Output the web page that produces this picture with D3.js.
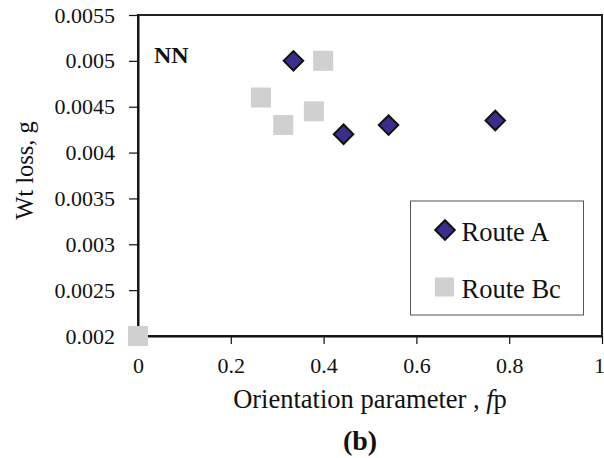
<!DOCTYPE html>
<html>
<head>
<meta charset="utf-8">
<script src="https://cdn.jsdelivr.net/npm/d3@7"></script>
<style>
  body { margin: 0; background: #fff; }
</style>
</head>
<body>
<div id="chart"></div>
<script>
// values
const routeAX = [0.335, 0.443, 0.540, 0.770];
const routeAY = [0.0050, 0.0042, 0.0043, 0.00435];
const routeBcX = [0.0, 0.265, 0.313, 0.379, 0.399];
const routeBcY = [0.0020, 0.0046, 0.0043, 0.00445, 0.0050];
const xTicks = [0, 0.2, 0.4, 0.6, 0.8, 1];
const xTickLabels = ['0', '0.2', '0.4', '0.6', '0.8', '1'];
const yTicks = [0.002, 0.0025, 0.003, 0.0035, 0.004, 0.0045, 0.005, 0.0055];
const yTickLabels = ['0.002', '0.0025', '0.003', '0.0035', '0.004', '0.0045', '0.005', '0.0055'];
const seriesNames = ['Route A', 'Route Bc'];

const FONT = '"Liberation Serif"';
const W = 604, H = 458;
const margin = { top: 15, right: 2, bottom: 122, left: 138 };
const width = W - margin.left - margin.right;
const height = H - margin.top - margin.bottom;

const svgRoot = d3.select('#chart').append('svg')
    .attr('width', W)
    .attr('height', H);

const svg = svgRoot.append('g')
    .attr('transform', `translate(${margin.left},${margin.top})`);

const x = d3.scaleLinear().domain([0, 1]).range([0, width]);
const y = d3.scaleLinear().domain([0.002, 0.0055]).range([height, 0]);

// plot frame
svg.append('rect')
    .attr('width', width)
    .attr('height', height)
    .style('fill', 'none')
    .style('stroke', '#222')
    .style('stroke-width', 2);

const xAxis = d3.axisBottom(x)
    .tickValues(xTicks)
    .tickFormat((d, i) => xTickLabels[i])
    .tickSize(8)
    .tickSizeOuter(0)
    .tickPadding(13);

const yAxis = d3.axisLeft(y)
    .tickValues(yTicks)
    .tickFormat((d, i) => yTickLabels[i])
    .tickSize(9)
    .tickSizeOuter(0)
    .tickPadding(14);

const gx = svg.append('g')
    .attr('transform', `translate(0,${height})`)
    .call(xAxis);

const gy = svg.append('g')
    .call(yAxis);

[gx, gy].forEach(g => {
    g.attr('font-family', null).attr('font-size', null);
    g.select('.domain').style('stroke', '#111').style('stroke-width', 2);
    g.selectAll('.tick line').style('stroke', '#111').style('stroke-width', 1.2);
    g.selectAll('.tick text')
        .style('font-family', FONT)
        .style('font-size', '22px')
        .style('fill', '#111');
});

// the last x label sits right at the page edge
gx.selectAll('.tick text').filter(d => d === 1).attr('dx', -3);

// axis titles
const xTitle = svg.append('text')
    .attr('x', width / 2)
    .attr('y', 393)
    .style('text-anchor', 'middle')
    .style('font-family', FONT)
    .style('font-size', '26.5px')
    .style('fill', '#111');
xTitle.append('tspan').text('Orientation parameter , ');
xTitle.append('tspan').style('font-style', 'italic').text('f');
xTitle.append('tspan').text('p');

svg.append('text')
    .attr('transform', `translate(-105,${(height / 2) - 5}) rotate(-90)`)
    .style('text-anchor', 'middle')
    .style('font-family', FONT)
    .style('font-size', '24.5px')
    .style('fill', '#111')
    .text('Wt loss, g');

svg.append('text')
    .attr('x', 16)
    .attr('y', 48)
    .style('font-family', FONT)
    .style('font-size', '24px')
    .style('font-weight', 'bold')
    .style('fill', '#111')
    .text('NN');

svg.append('text')
    .attr('x', width / 2 - 10)
    .attr('y', 435)
    .style('text-anchor', 'middle')
    .style('font-family', FONT)
    .style('font-size', '28px')
    .style('font-weight', 'bold')
    .style('fill', '#111')
    .text('(b)');

// legend
const legend = svg.append('g')
    .attr('transform', `translate(${410.5 - margin.left},${201 - margin.top})`);

legend.append('rect')
    .attr('width', 173)
    .attr('height', 114)
    .style('fill', '#fff')
    .style('stroke', '#555')
    .style('stroke-width', 1);

const diamond = d3.symbol().type(d3.symbolSquare).size(190);

const dataA = routeAX.map((v, i) => ({ x: v, y: routeAY[i] }));
const dataBc = routeBcX.map((v, i) => ({ x: v, y: routeBcY[i] }));

svg.selectAll('.sq')
    .data(dataBc)
    .enter().append('rect')
    .attr('class', 'sq')
    .attr('x', d => x(d.x) - 10)
    .attr('y', d => y(d.y) - 10)
    .attr('width', 20)
    .attr('height', 20)
    .style('fill', '#d0d0d0');

svg.selectAll('.dm')
    .data(dataA)
    .enter().append('path')
    .attr('class', 'dm')
    .attr('d', diamond)
    .attr('transform', d => `translate(${x(d.x)},${y(d.y)}) rotate(45)`)
    .style('fill', '#3a2e8c')
    .style('stroke', '#111')
    .style('stroke-width', 2);

const items = legend.selectAll('.item')
    .data(seriesNames)
    .enter().append('g')
    .attr('class', 'item')
    .attr('transform', (d, i) => `translate(34.5,${29 + i * 57})`);

items.filter((d, i) => i === 0).append('path')
    .attr('d', diamond)
    .attr('transform', 'rotate(45)')
    .style('fill', '#3a2e8c')
    .style('stroke', '#111')
    .style('stroke-width', 2);

items.filter((d, i) => i === 1).append('rect')
    .attr('x', -10)
    .attr('y', -9.5)
    .attr('width', 19)
    .attr('height', 19)
    .style('fill', '#d0d0d0');

items.append('text')
    .attr('x', 16.5)
    .attr('y', 10.5)
    .style('font-family', FONT)
    .style('font-size', '26.5px')
    .style('fill', '#111')
    .text(d => d);
</script>
</body>
</html>
